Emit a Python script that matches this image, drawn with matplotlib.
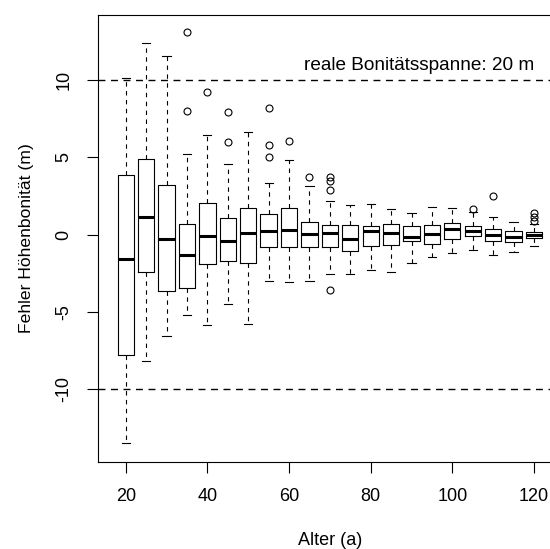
import matplotlib
matplotlib.use("Agg")
import matplotlib.pyplot as plt

plt.rcParams["font.family"] = ["Liberation Sans", "DejaVu Sans"]
plt.rcParams["axes.unicode_minus"] = False

# stand age classes (years)
ages = [20, 25, 30, 35, 40, 45, 50, 55, 60, 65, 70,
        75, 80, 85, 90, 95, 100, 105, 110, 115, 120]

# box statistics of the site-index error (m) per age class
q3 = [3.83, 4.90, 3.20, 0.72, 2.03, 1.10, 1.72, 1.36, 1.70, 0.85, 0.61,
      0.61, 0.59, 0.72, 0.57, 0.63, 0.76, 0.57, 0.35, 0.27, 0.18]
med = [-1.58, 1.15, -0.29, -1.28, -0.10, -0.40, 0.10, 0.25, 0.33, 0.03, 0.08,
       -0.25, 0.23, 0.10, -0.14, 0.03, 0.37, 0.21, -0.03, -0.12, 0.01]
q1 = [-7.75, -2.43, -3.61, -3.46, -1.92, -1.72, -1.85, -0.78, -0.78, -0.82, -0.78,
      -1.08, -0.76, -0.68, -0.42, -0.57, -0.29, -0.10, -0.42, -0.46, -0.20]
whishi = [10.15, 12.40, 11.54, 5.22, 6.46, 4.60, 6.61, 3.36, 4.81, 3.14, 2.15,
          1.90, 1.98, 1.64, 1.43, 1.79, 1.72, 1.50, 1.14, 0.82, 0.68]
whislo = [-13.48, -8.16, -6.57, -5.20, -5.86, -4.49, -5.76, -3.01, -3.07, -2.97, -2.52,
          -2.56, -2.28, -2.43, -1.81, -1.43, -1.17, -1.00, -1.32, -1.14, -0.74]
fliers = [[], [], [], [13.13, 7.99], [9.21], [7.92, 6.01], [], [8.18, 5.78, 5.03],
          [6.03], [3.70], [3.72, 3.44, 2.86, -3.57], [], [], [], [], [], [],
          [1.64], [2.50], [], [1.38, 1.13, 0.87]]

span_limits = [-10, 10]
span_label = "reale Bonitätsspanne: 20 m"

xticks = [20, 40, 60, 80, 100, 120]
yticks = [-10, -5, 0, 5, 10]

stats = [dict(med=m, q1=lo, q3=hi, whislo=wl, whishi=wh, fliers=f)
         for m, lo, hi, wl, wh, f in zip(med, q1, q3, whislo, whishi, fliers)]

fig = plt.figure(figsize=(5.5, 5.49), dpi=100)
ax = fig.add_axes([0.1776, 0.159, 1 - 0.1776, 0.9727 - 0.159])

ax.bxp(stats, positions=ages, widths=4, capwidths=2, manage_ticks=False,
       boxprops=dict(color="black", lw=0.8),
       whiskerprops=dict(color="black", lw=0.8, linestyle=(0, (4, 4))),
       capprops=dict(color="black", lw=0.8),
       medianprops=dict(color="black", lw=2.2, solid_capstyle="butt"),
       flierprops=dict(marker="o", markerfacecolor="none", markeredgecolor="black",
                       markersize=5, markeredgewidth=0.8))

for y in span_limits:
    ax.axhline(y, color="black", lw=1.0, linestyle=(0, (5, 4)), zorder=0)
ax.annotate(span_label, xy=(120, span_limits[1]), xytext=(0, 4),
            textcoords="offset points", ha="right", va="bottom", fontsize=13.7)

ax.set_xlim(13.14, 123.92)
ax.set_ylim(-14.67, 14.2)
ax.set_xticks(xticks)
ax.set_yticks(yticks)
ax.tick_params(labelsize=13, length=8, width=0.8)
ax.tick_params(axis="x", pad=11)
ax.tick_params(axis="y", pad=10)
for lab in ax.get_yticklabels():
    lab.set_rotation(90)
    lab.set_va("center")

ax.spines["right"].set_visible(False)
for side in ("left", "top", "bottom"):
    ax.spines[side].set_linewidth(0.8)

ax.set_xlabel("Alter (a)", fontsize=13)
ax.set_ylabel("Fehler Höhenbonität (m)", fontsize=12.6)
ax.xaxis.set_label_coords(0.5136, -0.158)
ax.yaxis.set_label_coords(-0.141, 0.5)

fig.savefig("out.png", dpi=100)
